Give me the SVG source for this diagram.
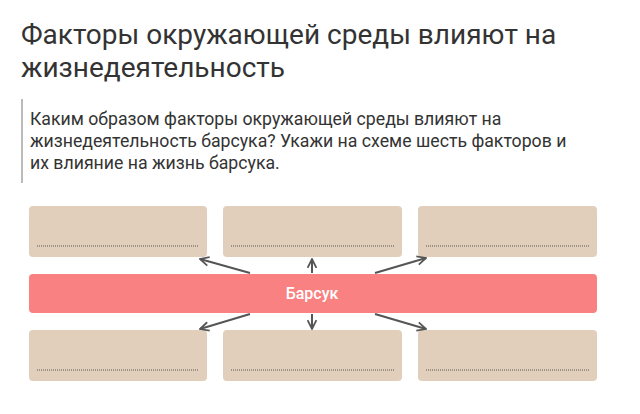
<svg xmlns="http://www.w3.org/2000/svg" width="640" height="414" viewBox="0 0 640 414">
<style>
.h{font-family:Roboto,"Liberation Sans",sans-serif;font-size:28px;fill:#333;}
.q{font-family:Roboto,"Liberation Sans",sans-serif;font-size:17.7px;fill:#333;}
.box{fill:#e1cfbc;}
.dot{stroke:#555;stroke-width:1;stroke-dasharray:1 1;}
.c{stroke:#555;stroke-width:2;fill:none;marker-end:url(#ah);}
.lbl{font-family:Roboto,"Liberation Sans",sans-serif;font-size:16px;font-weight:500;fill:#fff;text-anchor:middle;}
</style>
<defs>
<marker id="ah" viewBox="0 0 10 10" refX="9" refY="5" markerWidth="5.5" markerHeight="5.5" orient="auto" markerUnits="strokeWidth">
<path d="M1,1 L9,5 L1,9" fill="none" stroke="#555" stroke-width="1.6"/>
</marker>
</defs>
<rect width="640" height="414" fill="#fff"/>
<text class="h" x="21" y="44">Факторы окружающей среды влияют на</text>
<text class="h" x="21" y="77">жизнедеятельность</text>
<rect x="21" y="99" width="2" height="84" fill="#bbb"/>
<text class="q" x="30" y="125">Каким образом факторы окружающей среды влияют на</text>
<text class="q" x="30" y="147">жизнедеятельность барсука? Укажи на схеме шесть факторов и</text>
<text class="q" x="30" y="169">их влияние на жизнь барсука.</text>
<g id="n1"><rect class="box" x="29" y="206" width="178" height="51" rx="4"/><line class="dot" x1="37" y1="246" x2="199" y2="246"/></g>
<g id="n2"><rect class="box" x="223" y="206" width="179" height="51" rx="4"/><line class="dot" x1="231" y1="246" x2="394" y2="246"/></g>
<g id="n3"><rect class="box" x="418" y="206" width="179" height="51" rx="4"/><line class="dot" x1="426" y1="246" x2="589" y2="246"/></g>
<g id="n4"><rect class="box" x="29" y="330" width="178" height="51" rx="4"/><line class="dot" x1="37" y1="370" x2="199" y2="370"/></g>
<g id="n5"><rect class="box" x="223" y="330" width="179" height="51" rx="4"/><line class="dot" x1="231" y1="370" x2="394" y2="370"/></g>
<g id="n6"><rect class="box" x="418" y="330" width="179" height="51" rx="4"/><line class="dot" x1="426" y1="370" x2="589" y2="370"/></g>
<g id="center"><rect x="29" y="274" width="568" height="39" rx="4" fill="#f98181"/><text class="lbl" x="312" y="299">Барсук</text></g>
<g id="connectors">
<line class="c" x1="250" y1="273" x2="200" y2="259"/>
<line class="c" x1="312" y1="273" x2="312" y2="259"/>
<line class="c" x1="375" y1="273" x2="426" y2="258"/>
<line class="c" x1="250" y1="314" x2="200" y2="329"/>
<line class="c" x1="312" y1="314" x2="312" y2="329"/>
<line class="c" x1="375" y1="314" x2="426" y2="329"/>
</g>
</svg>
